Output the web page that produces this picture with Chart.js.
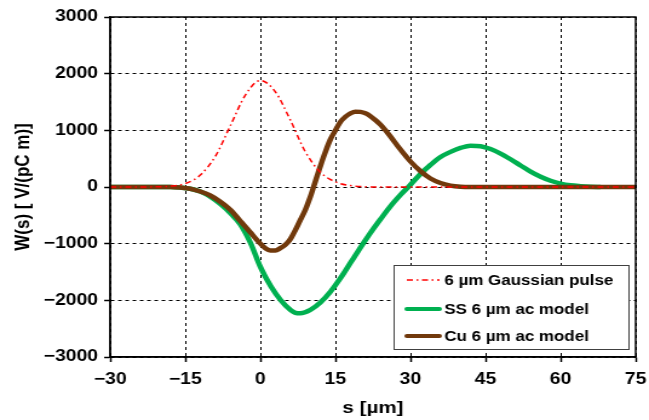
<!DOCTYPE html>
<html>
<head>
<meta charset="utf-8">
<script src="https://cdn.jsdelivr.net/npm/chart.js@4"></script>
<style>
  html, body { margin: 0; padding: 0; background: #fff; overflow: hidden; }
  #myChart { display: block; transform: scaleX(1.2108); transform-origin: 0 0; }
</style>
</head>
<body>
<canvas id="myChart" width="536" height="420" style="width:536px;height:420px"></canvas>
<script>
// values (s in um, W in V/(pC m))
var pulseS = [-30, -21, -18, -15, -12, -9, -6, -3, 0, 3, 6, 9, 12, 15, 18, 21, 24, 30, 45, 60, 75];
var pulseW = [0, 3, 15, 60, 210, 540, 1080, 1620, 1880, 1680, 1180, 620, 260, 90, 25, 5, 0, 0, 0, 0, 0];

var ssS = [-30, -18, -16, -14, -12, -10, -8, -6, -4, -2, 0, 2, 4, 6, 7, 8, 10, 12, 14, 16, 18, 20, 22, 24, 26, 28, 30, 32, 34, 36, 38, 40, 42, 44, 46, 48, 50, 52, 54, 56, 58, 60, 62, 64, 66, 68];
var ssW = [0, 0, -10, -30, -80, -170, -300, -460, -660, -980, -1410, -1740, -1990, -2170, -2220, -2230, -2170, -2040, -1850, -1610, -1340, -1070, -810, -570, -340, -140, 40, 230, 390, 530, 620, 690, 730, 720, 670, 590, 490, 380, 270, 180, 110, 60, 30, 15, 5, 0];

var cuS = [-30, -18, -16, -14, -12, -10, -8, -6, -4, -2, 0, 1, 2, 3, 4, 5, 6, 7, 8, 9, 10, 11, 12, 13, 14, 15, 16, 17, 18, 19, 20, 21, 22, 23, 24, 25, 26, 28, 30, 32, 34, 36, 38, 40, 42, 75];
var cuW = [0, 0, -10, -30, -80, -150, -260, -400, -600, -800, -1000, -1080, -1120, -1120, -1080, -1020, -920, -760, -580, -400, -170, 100, 370, 620, 840, 1000, 1150, 1240, 1300, 1330, 1325, 1300, 1250, 1180, 1100, 1000, 890, 660, 450, 280, 150, 70, 25, 5, 0, 0];

var seriesNames = ["6 \u00b5m Gaussian pulse", "SS 6 \u00b5m ac model", "Cu 6 \u00b5m ac model"];
var seriesColors = ["#ff0000", "#00b050", "#71390c"];

var xTicks = [-30, -15, 0, 15, 30, 45, 60, 75];
var yTicks = [-3000, -2000, -1000, 0, 1000, 2000, 3000];

function pts(xs, ys) {
  var out = [];
  for (var i = 0; i < xs.length; i++) out.push({x: xs[i], y: ys[i]});
  return out;
}
function fmt(v) {
  return String(v).replace("-", "\u2212");
}

var fontFam = "'Liberation Sans', Arial, sans-serif";
var pulseDash = [5, 3, 1.5, 3];

// frame round the plot area and the boxed legend
var framePlugin = {
  id: "frame",
  afterDraw: function(chart) {
    var ctx = chart.ctx;
    var a = chart.chartArea;
    ctx.save();
    ctx.strokeStyle = "#000";
    ctx.lineWidth = 1.5;
    ctx.strokeRect(a.left, a.top, a.right - a.left, a.bottom - a.top);

    // legend box
    var bx = 325, by = 265, bw = 194, bh = 84;
    ctx.fillStyle = "#fff";
    ctx.fillRect(bx, by, bw, bh);
    ctx.strokeStyle = "#404040";
    ctx.lineWidth = 1;
    ctx.strokeRect(bx + 0.5, by + 0.5, bw, bh);
    var rows = [280, 309, 336];
    var widths = [1.5, 4, 4];
    ctx.font = "bold 14px " + fontFam;
    ctx.textBaseline = "middle";
    for (var i = 0; i < 3; i++) {
      ctx.beginPath();
      ctx.setLineDash(i === 0 ? pulseDash : []);
      ctx.strokeStyle = seriesColors[i];
      ctx.lineWidth = widths[i];
      ctx.lineCap = i === 0 ? "butt" : "round";
      ctx.moveTo(336, rows[i]);
      ctx.lineTo(363, rows[i]);
      ctx.stroke();
      ctx.setLineDash([]);
      ctx.fillStyle = "#000";
      ctx.fillText(seriesNames[i], 367, rows[i] + 1);
    }
    ctx.restore();
  }
};

new Chart("myChart", {
  type: "line",
  data: {
    datasets: [{
      label: seriesNames[0],
      data: pts(pulseS, pulseW),
      borderColor: seriesColors[0],
      borderWidth: 1.5,
      borderDash: pulseDash,
      order: 0
    }, {
      label: seriesNames[1],
      data: pts(ssS, ssW),
      borderColor: seriesColors[1],
      borderWidth: 4.5,
      order: 2
    }, {
      label: seriesNames[2],
      data: pts(cuS, cuW),
      borderColor: seriesColors[2],
      borderWidth: 4.5,
      order: 1
    }]
  },
  options: {
    responsive: false,
    devicePixelRatio: 1,
    animation: false,
    elements: { point: { radius: 0 }, line: { cubicInterpolationMode: "monotone" } },
    layout: { padding: { top: 17, right: 11, left: 0, bottom: 0 } },
    plugins: {
      legend: { display: false },
      tooltip: { enabled: false }
    },
    scales: {
      x: {
        type: "linear",
        min: -30, max: 75,
        afterBuildTicks: function(s) { s.ticks = xTicks.map(function(v) { return {value: v}; }); },
        afterFit: function(s) { s.height = 63; s.paddingLeft = 0; s.paddingRight = 0; },
        grid: { color: "#000", lineWidth: 1, tickLength: 5, tickColor: "#000", tickWidth: 1.5 },
        border: { color: "#000", width: 1.5, dash: [3, 3] },
        ticks: {
          color: "#000", padding: 8, maxRotation: 0,
          font: { family: fontFam, size: 16, weight: "bold" },
          callback: function(v) { return fmt(v); }
        },
        title: {
          display: true, text: "s [\u00b5m]", color: "#000", padding: {top: 0, bottom: 1},
          font: { family: fontFam, size: 17, weight: "bold" }
        }
      },
      y: {
        min: -3000, max: 3000,
        afterBuildTicks: function(s) { s.ticks = yTicks.map(function(v) { return {value: v}; }); },
        afterFit: function(s) { s.width = 91; s.paddingTop = 0; s.paddingBottom = 0; },
        grid: { color: "#000", lineWidth: 1, tickLength: 5, tickColor: "#000", tickWidth: 1.5 },
        border: { color: "#000", width: 1.5, dash: [3, 3] },
        ticks: {
          color: "#000", padding: 5,
          font: { family: fontFam, size: 16, weight: "bold" },
          callback: function(v) { return fmt(v); }
        },
        title: {
          display: true, text: "W(s) [ V/(pC m)]", color: "#000", padding: {top: 9, bottom: 0},
          font: { family: fontFam, size: 17, weight: "bold" }
        }
      }
    }
  },
  plugins: [framePlugin]
});
</script>
</body>
</html>
